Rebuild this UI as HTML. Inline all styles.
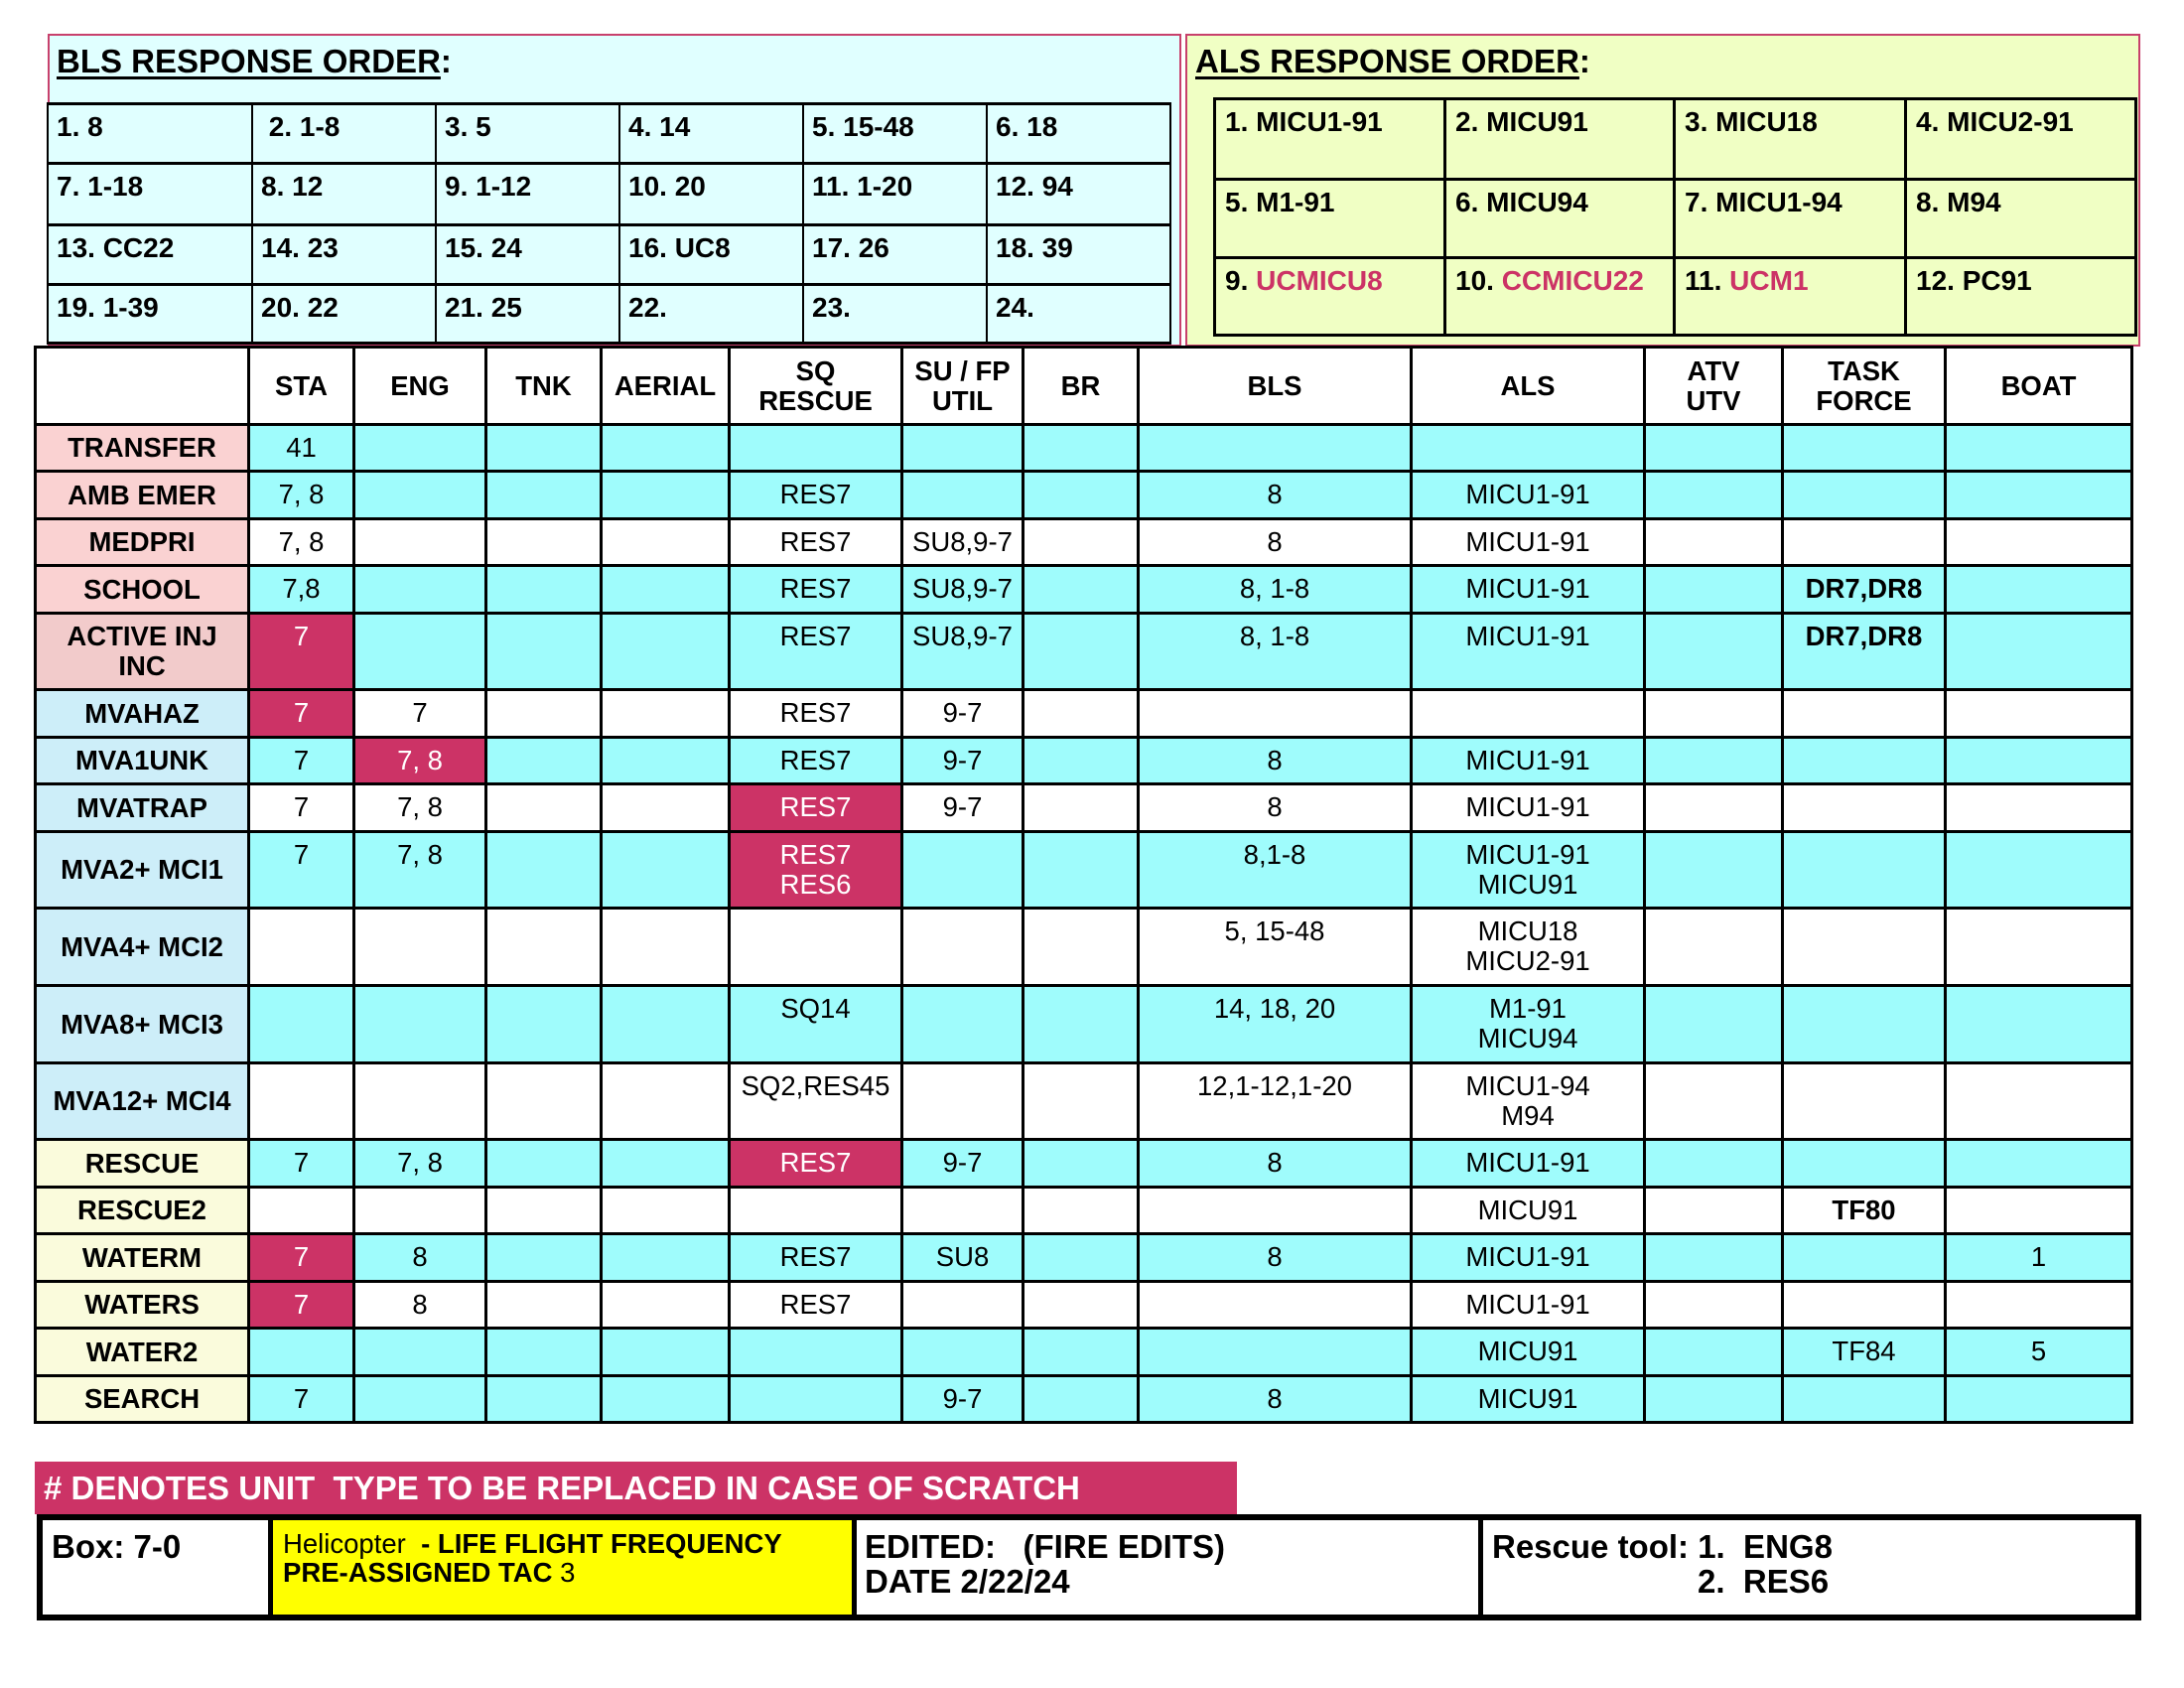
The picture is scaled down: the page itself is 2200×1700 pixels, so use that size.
<!DOCTYPE html>
<html><head><meta charset="utf-8">
<style>
*{box-sizing:border-box;margin:0;padding:0}
body{width:2200px;height:1700px;background:#fff;position:relative;overflow:hidden;font-family:"Liberation Sans",Arial,sans-serif;color:#000}
.abs{position:absolute}
.box{position:absolute;border:2px solid #c8406c}
.title{position:absolute;font-weight:bold;font-size:33px;line-height:33px;white-space:pre}
.title u{text-decoration:underline;text-decoration-thickness:3px;text-underline-offset:4px}
.g{position:absolute;display:grid;background:#000}
.bls{left:47px;top:103px;padding:3px 2px;row-gap:3px;column-gap:2px;grid-template-columns:204px repeat(5,183px);grid-template-rows:57px 59px 57px 56px}
.bls div{background:#e0ffff;font-weight:bold;font-size:28px;line-height:30px;padding:7px 0 0 8px;white-space:pre}
.als{left:1222px;top:98px;padding:3px;gap:3px;grid-template-columns:229px 228px 230px 229px;grid-template-rows:78px 76px 75px}
.als div{background:#f0ffc4;font-weight:bold;font-size:28px;line-height:30px;padding:7px 0 0 9px;white-space:pre}
.rt{color:#cc3366}
.main{left:34px;top:348px;padding:3px;gap:3px;
grid-template-columns:212px 103px 130px 113px 126px 171px 119px 113px 272px 232px 136px 161px 185px;
grid-template-rows:75px 44px 45px 44px 45px 74px 45px 44px 45px 74px 75px 75px 74px 45px 44px 45px 44px 45px 44px}
.main div{font-size:27.5px;line-height:30px}
.h{display:flex;align-items:center;justify-content:center;text-align:center;font-weight:bold;background:#fff}
.l{display:flex;align-items:center;justify-content:center;text-align:center;font-weight:bold}
.p{background:#fad2d2}
.pa{background:#f2cbcb}
.b{background:#cdeef9}
.y{background:#fafbdc}
.d{text-align:center;padding-top:7px;white-space:nowrap}
.c{background:#9ffcfc}
.w{background:#fff}
.r{background:#cc3366;color:#fff}
.bd{font-weight:bold}
.ft{position:absolute;font-weight:bold;font-size:33px;line-height:35px;white-space:pre}
</style></head><body>

<!-- BLS box -->
<div class="box" style="left:48px;top:34px;width:1142px;height:315px;background:#e0ffff"></div>
<div class="title" style="left:57px;top:45px"><u>BLS RESPONSE ORDER</u>:</div>
<div class="g bls">
<div>1. 8</div><div> 2. 1-8</div><div>3. 5</div><div>4. 14</div><div>5. 15-48</div><div>6. 18</div>
<div>7. 1-18</div><div>8. 12</div><div>9. 1-12</div><div>10. 20</div><div>11. 1-20</div><div>12. 94</div>
<div>13. CC22</div><div>14. 23</div><div>15. 24</div><div>16. UC8</div><div>17. 26</div><div>18. 39</div>
<div>19. 1-39</div><div>20. 22</div><div>21. 25</div><div>22.</div><div>23.</div><div>24.</div>
</div>

<!-- ALS box -->
<div class="box" style="left:1194px;top:34px;width:962px;height:315px;background:#f0ffc4"></div>
<div class="title" style="left:1204px;top:45px"><u>ALS RESPONSE ORDER</u>:</div>
<div class="g als">
<div>1. MICU1-91</div><div>2. MICU91</div><div>3. MICU18</div><div>4. MICU2-91</div>
<div>5. M1-91</div><div>6. MICU94</div><div>7. MICU1-94</div><div>8. M94</div>
<div>9. <span class="rt">UCMICU8</span></div><div>10. <span class="rt">CCMICU22</span></div><div>11. <span class="rt">UCM1</span></div><div>12. PC91</div>
</div>

<!-- Main table -->
<div class="g main">
<div class="h"></div><div class="h">STA</div><div class="h">ENG</div><div class="h">TNK</div><div class="h">AERIAL</div><div class="h">SQ<br>RESCUE</div><div class="h">SU / FP<br>UTIL</div><div class="h">BR</div><div class="h">BLS</div><div class="h">ALS</div><div class="h">ATV<br>UTV</div><div class="h">TASK<br>FORCE</div><div class="h">BOAT</div>

<div class="l p">TRANSFER</div><div class="d c">41</div><div class="d c"></div><div class="d c"></div><div class="d c"></div><div class="d c"></div><div class="d c"></div><div class="d c"></div><div class="d c"></div><div class="d c"></div><div class="d c"></div><div class="d c"></div><div class="d c"></div>

<div class="l p">AMB EMER</div><div class="d c">7, 8</div><div class="d c"></div><div class="d c"></div><div class="d c"></div><div class="d c">RES7</div><div class="d c"></div><div class="d c"></div><div class="d c">8</div><div class="d c">MICU1-91</div><div class="d c"></div><div class="d c"></div><div class="d c"></div>

<div class="l p">MEDPRI</div><div class="d w">7, 8</div><div class="d w"></div><div class="d w"></div><div class="d w"></div><div class="d w">RES7</div><div class="d w">SU8,9-7</div><div class="d w"></div><div class="d w">8</div><div class="d w">MICU1-91</div><div class="d w"></div><div class="d w"></div><div class="d w"></div>

<div class="l p">SCHOOL</div><div class="d c">7,8</div><div class="d c"></div><div class="d c"></div><div class="d c"></div><div class="d c">RES7</div><div class="d c">SU8,9-7</div><div class="d c"></div><div class="d c">8, 1-8</div><div class="d c">MICU1-91</div><div class="d c"></div><div class="d c bd">DR7,DR8</div><div class="d c"></div>

<div class="l pa">ACTIVE INJ<br>INC</div><div class="d r">7</div><div class="d c"></div><div class="d c"></div><div class="d c"></div><div class="d c">RES7</div><div class="d c">SU8,9-7</div><div class="d c"></div><div class="d c">8, 1-8</div><div class="d c">MICU1-91</div><div class="d c"></div><div class="d c bd">DR7,DR8</div><div class="d c"></div>

<div class="l b">MVAHAZ</div><div class="d r">7</div><div class="d w">7</div><div class="d w"></div><div class="d w"></div><div class="d w">RES7</div><div class="d w">9-7</div><div class="d w"></div><div class="d w"></div><div class="d w"></div><div class="d w"></div><div class="d w"></div><div class="d w"></div>

<div class="l b">MVA1UNK</div><div class="d c">7</div><div class="d r">7, 8</div><div class="d c"></div><div class="d c"></div><div class="d c">RES7</div><div class="d c">9-7</div><div class="d c"></div><div class="d c">8</div><div class="d c">MICU1-91</div><div class="d c"></div><div class="d c"></div><div class="d c"></div>

<div class="l b">MVATRAP</div><div class="d w">7</div><div class="d w">7, 8</div><div class="d w"></div><div class="d w"></div><div class="d r">RES7</div><div class="d w">9-7</div><div class="d w"></div><div class="d w">8</div><div class="d w">MICU1-91</div><div class="d w"></div><div class="d w"></div><div class="d w"></div>

<div class="l b">MVA2+ MCI1</div><div class="d c">7</div><div class="d c">7, 8</div><div class="d c"></div><div class="d c"></div><div class="d r">RES7<br>RES6</div><div class="d c"></div><div class="d c"></div><div class="d c">8,1-8</div><div class="d c">MICU1-91<br>MICU91</div><div class="d c"></div><div class="d c"></div><div class="d c"></div>

<div class="l b">MVA4+ MCI2</div><div class="d w"></div><div class="d w"></div><div class="d w"></div><div class="d w"></div><div class="d w"></div><div class="d w"></div><div class="d w"></div><div class="d w">5, 15-48</div><div class="d w">MICU18<br>MICU2-91</div><div class="d w"></div><div class="d w"></div><div class="d w"></div>

<div class="l b">MVA8+ MCI3</div><div class="d c"></div><div class="d c"></div><div class="d c"></div><div class="d c"></div><div class="d c">SQ14</div><div class="d c"></div><div class="d c"></div><div class="d c">14, 18, 20</div><div class="d c">M1-91<br>MICU94</div><div class="d c"></div><div class="d c"></div><div class="d c"></div>

<div class="l b">MVA12+ MCI4</div><div class="d w"></div><div class="d w"></div><div class="d w"></div><div class="d w"></div><div class="d w">SQ2,RES45</div><div class="d w"></div><div class="d w"></div><div class="d w">12,1-12,1-20</div><div class="d w">MICU1-94<br>M94</div><div class="d w"></div><div class="d w"></div><div class="d w"></div>

<div class="l y">RESCUE</div><div class="d c">7</div><div class="d c">7, 8</div><div class="d c"></div><div class="d c"></div><div class="d r">RES7</div><div class="d c">9-7</div><div class="d c"></div><div class="d c">8</div><div class="d c">MICU1-91</div><div class="d c"></div><div class="d c"></div><div class="d c"></div>

<div class="l y">RESCUE2</div><div class="d w"></div><div class="d w"></div><div class="d w"></div><div class="d w"></div><div class="d w"></div><div class="d w"></div><div class="d w"></div><div class="d w"></div><div class="d w">MICU91</div><div class="d w"></div><div class="d w bd">TF80</div><div class="d w"></div>

<div class="l y">WATERM</div><div class="d r">7</div><div class="d c">8</div><div class="d c"></div><div class="d c"></div><div class="d c">RES7</div><div class="d c">SU8</div><div class="d c"></div><div class="d c">8</div><div class="d c">MICU1-91</div><div class="d c"></div><div class="d c"></div><div class="d c">1</div>

<div class="l y">WATERS</div><div class="d r">7</div><div class="d w">8</div><div class="d w"></div><div class="d w"></div><div class="d w">RES7</div><div class="d w"></div><div class="d w"></div><div class="d w"></div><div class="d w">MICU1-91</div><div class="d w"></div><div class="d w"></div><div class="d w"></div>

<div class="l y">WATER2</div><div class="d c"></div><div class="d c"></div><div class="d c"></div><div class="d c"></div><div class="d c"></div><div class="d c"></div><div class="d c"></div><div class="d c"></div><div class="d c">MICU91</div><div class="d c"></div><div class="d c">TF84</div><div class="d c">5</div>

<div class="l y">SEARCH</div><div class="d c">7</div><div class="d c"></div><div class="d c"></div><div class="d c"></div><div class="d c"></div><div class="d c">9-7</div><div class="d c"></div><div class="d c">8</div><div class="d c">MICU91</div><div class="d c"></div><div class="d c"></div><div class="d c"></div>
</div>

<!-- Footer banner -->
<div class="abs" style="left:35px;top:1472px;width:1211px;height:53px;background:#cc3366"></div>
<div class="title" style="left:44px;top:1482px;color:#fff"># DENOTES UNIT  TYPE TO BE REPLACED IN CASE OF SCRATCH</div>

<!-- Footer box -->
<div class="abs" style="left:37px;top:1525px;width:2120px;height:107px;border:6px solid #000;background:#fff"></div>
<div class="abs" style="left:275px;top:1531px;width:583px;height:95px;background:#ffff00"></div>
<div class="abs" style="left:270px;top:1525px;width:5px;height:107px;background:#000"></div>
<div class="abs" style="left:858px;top:1525px;width:5px;height:107px;background:#000"></div>
<div class="abs" style="left:1489px;top:1525px;width:5px;height:107px;background:#000"></div>

<div class="ft" style="left:52px;top:1540px">Box: 7-0</div>
<div class="abs" style="left:285px;top:1540px;font-size:27.5px;line-height:29px;white-space:pre">Helicopter  <b>- LIFE FLIGHT FREQUENCY</b><br><b>PRE-ASSIGNED TAC</b> 3</div>
<div class="ft" style="left:871px;top:1540px">EDITED:   (FIRE EDITS)<br>DATE 2/22/24</div>
<div class="ft" style="left:1503px;top:1540px">Rescue tool: 1.  ENG8</div>
<div class="ft" style="left:1710px;top:1575px">2.  RES6</div>

</body></html>
